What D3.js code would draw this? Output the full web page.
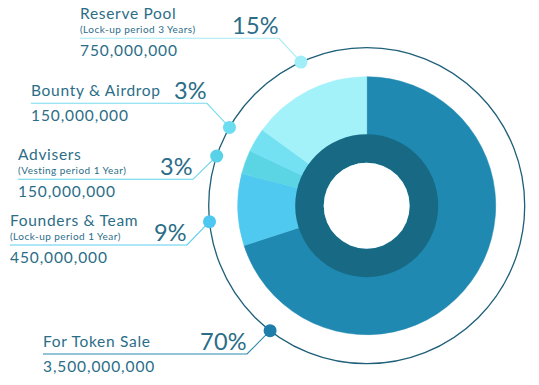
<!DOCTYPE html>
<html><head><meta charset="utf-8">
<script src="https://cdn.jsdelivr.net/npm/d3@7"></script>
<style>
html,body{margin:0;padding:0;background:#fff;}
text{font-family:Lato,"Open Sans",sans-serif;}
</style></head>
<body><svg id="c" width="539" height="385"></svg>
<script>
// ---- data ----
const categories = ["For Token Sale","Founders & Team","Advisers","Bounty & Airdrop","Reserve Pool"];
const subtitles = ["","(Lock-up period 1 Year)","(Vesting period 1 Year)","","(Lock-up period 3 Years)"];
const percents = [70, 9, 3, 3, 15];
const amounts = ["3,500,000,000","450,000,000","150,000,000","150,000,000","750,000,000"];

// ---- styles / layout ----
const sliceColors = ["#1f89b1","#4fc9ef","#5bd5e4","#74e1f3","#a3f1f9"];
const dotColors = ["#1e7ea9","#4dc8f0","#58d2e8","#6cdcf1","#a0eef8"];
const lineColors = ["#2b87ab","#5ccdf0","#60d3ea","#78dcf0","#a6ecf6"];
const textColor = "#2b6d87";
const W = 539, H = 385;
const cx = 366.7, cy = 205.7;
const rPie = 129, rRingOut = 71.5, rRingIn = 43, rOuter = 158;
// annotation layout: dot angle (deg, clockwise from top), line y, line start x, line end x
const layout = [
  {a:217.7, y:354.0, x0:43, x1:247},
  {a:264.2, y:245.0, x0:10, x1:187},
  {a:288.3, y:179.3, x0:18, x1:193},
  {a:299.7, y:103.3, x0:31, x1:207},
  {a:335.4, y:38.3,  x0:80, x1:279}
];

const svg = d3.select("#c");
const g = svg.append("g").attr("transform",`translate(${cx},${cy})`);

const pie = d3.pie().sort(null).value(d=>d).startAngle(0).endAngle(2*Math.PI);
const arcs = pie(percents);
const arc = d3.arc().innerRadius(0).outerRadius(rPie);

g.selectAll("path.slice").data(arcs).join("path")
  .attr("class","slice")
  .attr("d",arc)
  .attr("fill",(d,i)=>sliceColors[i])
  .attr("stroke",(d,i)=>sliceColors[i]).attr("stroke-width",0.5);

g.append("path")
  .attr("d", d3.arc().innerRadius(rRingIn).outerRadius(rRingOut).startAngle(0).endAngle(2*Math.PI)())
  .attr("fill","#186a84");
g.append("circle").attr("r",rRingIn).attr("fill","#fff");

g.append("circle").attr("r",rOuter).attr("fill","none")
  .attr("stroke","#1f5f79").attr("stroke-width",1.3);

// annotations
const ann = svg.append("g");
categories.forEach((c,i)=>{
  const L = layout[i];
  const ang = L.a*Math.PI/180;
  const dx = cx + rOuter*Math.sin(ang), dy = cy - rOuter*Math.cos(ang);
  ann.append("polyline")
    .attr("points",`${L.x0},${L.y} ${L.x1},${L.y} ${dx},${dy}`)
    .attr("fill","none").attr("stroke",lineColors[i]).attr("stroke-width",1.1);
  ann.append("circle").attr("cx",dx).attr("cy",dy).attr("r",6.5).attr("fill",dotColors[i]);

  const hasSub = subtitles[i] !== "";
  ann.append("text").attr("x",L.x0).attr("y", L.y - (hasSub?19:7))
    .attr("font-size",15.5).attr("fill",textColor).attr("letter-spacing",0.7).text(c);
  if(hasSub){
    ann.append("text").attr("x",L.x0).attr("y",L.y-5.5)
      .attr("font-size",10).attr("fill",textColor).attr("letter-spacing",0.45).text(subtitles[i]);
  }
  ann.append("text").attr("x",L.x1).attr("y",L.y-4.5).attr("text-anchor","end")
    .attr("font-size",23.5).attr("fill",textColor).attr("letter-spacing",0.3).text(percents[i]+"%");
  ann.append("text").attr("x",L.x0).attr("y",L.y+17.5)
    .attr("font-size",15.5).attr("fill",textColor).attr("letter-spacing",0.9).text(amounts[i]);
});
</script></body></html>
